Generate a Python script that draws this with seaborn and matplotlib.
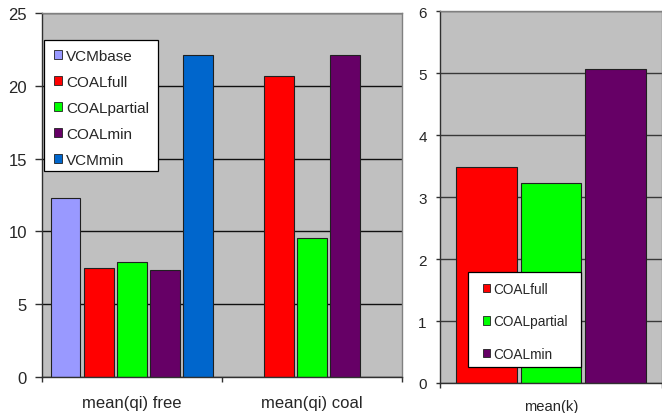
import numpy as np
import pandas as pd
import matplotlib
matplotlib.use("Agg")
import matplotlib.pyplot as plt
import seaborn as sns
from matplotlib.patches import Patch, Rectangle

# ---- data ----
left_categories = ["mean(qi) free", "mean(qi) coal"]
left_series = ["VCMbase", "COALfull", "COALpartial", "COALmin", "VCMmin"]
vcmbase = [12.3, np.nan]
coalfull = [7.47, 20.65]
coalpartial = [7.92, 9.52]
coalmin = [7.33, 22.1]
vcmmin = [22.1, np.nan]

right_categories = ["mean(k)"]
right_series = ["COALfull", "COALpartial", "COALmin"]
k_coalfull = [3.49]
k_coalpartial = [3.22]
k_coalmin = [5.07]

left_yticks = [0, 5, 10, 15, 20, 25]
right_yticks = [0, 1, 2, 3, 4, 5, 6]

colors = {"VCMbase": "#9999FF", "COALfull": "#FF0000", "COALpartial": "#00FF00",
          "COALmin": "#660066", "VCMmin": "#0066CC"}

left_df = pd.DataFrame({
    "category": left_categories * 5,
    "series": sum([[s] * 2 for s in left_series], []),
    "value": vcmbase + coalfull + coalpartial + coalmin + vcmmin,
})
right_df = pd.DataFrame({
    "category": right_categories * 3,
    "series": right_series,
    "value": k_coalfull + k_coalpartial + k_coalmin,
})

sns.set_style("white")
plt.rcParams["font.family"] = ["Liberation Sans", "DejaVu Sans"]

W, H = 662, 414
fig = plt.figure(figsize=(W / 100, H / 100), dpi=100)

def px_axes(x0, x1, ytop, ybot):
    return fig.add_axes([x0 / W, 1 - ybot / H, (x1 - x0) / W, (ybot - ytop) / H])

axL = px_axes(41.7, 402.3, 14, 378)
axR = px_axes(440, 662, 12, 384)

def style(ax, yticks, fs_y, fs_x, xpad, ylen, ypad, gridcolor):
    ax.set_facecolor("#C0C0C0")
    ax.set_ylim(yticks[0], yticks[-1])
    ax.set_yticks(yticks)
    ax.yaxis.grid(True, color=gridcolor, linewidth=1.0)
    ax.set_axisbelow(True)
    for s in ["top", "right"]:
        ax.spines[s].set_visible(True)
        ax.spines[s].set_color("#808080")
        ax.spines[s].set_linewidth(1.0)
    for s in ["left", "bottom"]:
        ax.spines[s].set_color("#303030")
        ax.spines[s].set_linewidth(1.0)
    ax.tick_params(axis="y", which="major", direction="out", length=ylen, width=1,
                   color="#303030", pad=ypad, labelsize=fs_y, left=True)
    ax.tick_params(axis="x", which="major", length=0, pad=xpad, labelsize=fs_x, bottom=True)
    ax.tick_params(axis="x", which="minor", direction="out", length=3.5, width=1,
                   color="#303030", bottom=True)
    ax.set_xlabel("")
    ax.set_ylabel("")

def boxed_legend(ax, series, box, anchor, fs, sq_px, ls, tp):
    x0, x1, y0, y1 = box
    rect = Rectangle((x0 / W, 1 - y1 / H), (x1 - x0) / W, (y1 - y0) / H,
                     transform=fig.transFigure, facecolor="white", edgecolor="black",
                     linewidth=0.9, zorder=4, clip_on=False)
    ax.add_patch(rect)
    handles = [Patch(facecolor=colors[s], edgecolor="#202020", linewidth=0.6, label=s)
               for s in series]
    hl = sq_px * 0.72 / fs
    leg = ax.legend(handles=handles, loc="upper left",
                    bbox_to_anchor=(anchor[0] / W, 1 - anchor[1] / H),
                    bbox_transform=fig.transFigure, frameon=False, fontsize=fs,
                    handlelength=hl, handleheight=hl, handletextpad=tp,
                    labelspacing=ls, borderpad=0, borderaxespad=0)
    leg.set_zorder(5)
    return leg

# left chart
sns.barplot(data=left_df, x="category", y="value", hue="series", hue_order=left_series,
            order=left_categories, palette=colors, width=0.92, gap=0.1,
            edgecolor="#202020", linewidth=0.8, saturation=1, ax=axL, legend=False)
axL.set_xlim(-0.5, 1.5)
axL.set_xticks([-0.5, 0.5, 1.5], minor=True)
style(axL, left_yticks, 12, 12, 13, 4.7, 6, "#101010")
boxed_legend(axL, left_series, (44, 158, 41, 172), (54.3, 50.3), 11, 8, 0.78, 0.27)

# right chart
sns.barplot(data=right_df, x="category", y="value", hue="series", hue_order=right_series,
            order=right_categories, palette=colors, width=0.874, gap=0.06,
            edgecolor="#202020", linewidth=0.8, saturation=1, ax=axR, legend=False)
axR.set_xlim(-0.5, 0.5)
axR.set_xticks([-0.5, 0.5], minor=True)
style(axR, right_yticks, 11, 10.6, 11.5, 2.9, 6.7, "#383838")
boxed_legend(axR, right_series, (467.7, 581, 273, 368), (482.7, 282.7), 9.8, 7.3, 1.37, 0.24)

fig.savefig("out.png", dpi=100)
